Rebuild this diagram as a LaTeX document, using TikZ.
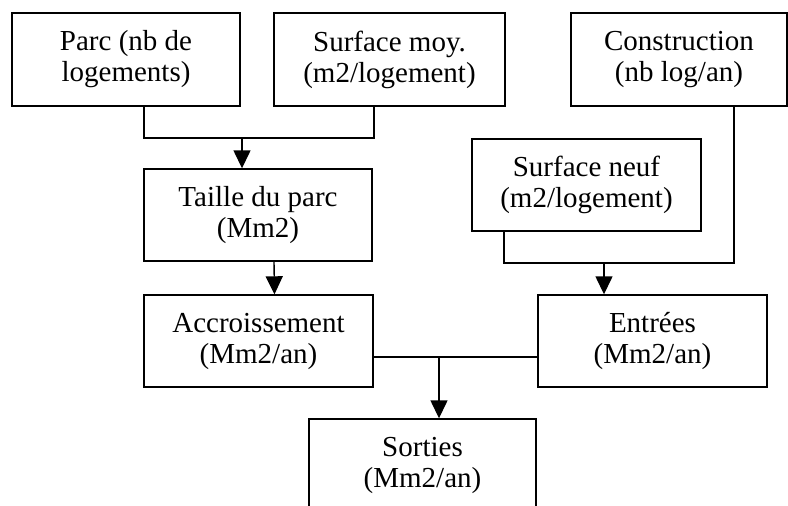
\documentclass[tikz,border=0pt]{standalone}
\usepackage{fontspec}
\setmainfont{Liberation Serif}
\usetikzlibrary{positioning, arrows.meta}
\tikzset{
	boxNode/.style={draw=black, line width=1.4pt, rectangle, align=center, inner sep=0pt, font=\fontsize{29}{31}\selectfont},
	flowLine/.style={line width=1.4pt},
	flowArrow/.style={line width=1.4pt, -{Triangle[length=18pt,width=17pt]}}
}

\begin{document}
\begin{tikzpicture}[x=1pt, y=-1pt]
\useasboundingbox (0,0) rectangle (788,506);
\clip (0,0) rectangle (788,506);
\fill[white] (0,0) rectangle (788,506);
% top row
\node[boxNode, minimum width=228pt, minimum height=93pt] (parc) at (126,59.5) {Parc (nb de\\logements)};
\node[boxNode, minimum width=231pt, minimum height=93pt] (surfMoy) at (389.5,59.5) {Surface moy.\\(m2/logement)};
\node[boxNode, minimum width=216pt, minimum height=93pt] (constr) at (679,59.5) {Construction\\(nb log/an)};
% middle
\node[boxNode, minimum width=228pt, minimum height=92pt] (taille) at (258,215) {Taille du parc\\(Mm2)};
\node[boxNode, minimum width=229pt, minimum height=92pt] (surfNeuf) at (586.5,185) {Surface neuf\\(m2/logement)};
\node[boxNode, minimum width=229pt, minimum height=92pt] (accr) at (258.5,341) {Accroissement\\(Mm2/an)};
\node[boxNode, minimum width=229pt, minimum height=92pt] (entrees) at (652.5,341) {Entr\'ees\\(Mm2/an)};
\node[boxNode, minimum width=227pt, minimum height=92pt] (sorties) at (422.5,465) {Sorties\\(Mm2/an)};
% junctions
\coordinate (jTop) at (242,138);
\coordinate (jRight) at (604,263);
\coordinate (jBottom) at (439,357);
\draw[flowLine] ([xshift=18pt]parc.south) |- (jTop) -| ([xshift=-15.5pt]surfMoy.south);
\draw[flowArrow] (jTop) -- (jTop |- taille.north);
\draw[flowArrow] ([xshift=16pt]taille.south) -- ([xshift=16pt]accr.north);
\draw[flowLine] ([xshift=-82.5pt]surfNeuf.south) |- (jRight) -| ([xshift=55pt]constr.south);
\draw[flowArrow] (jRight) -- (jRight |- entrees.north);
\draw[flowLine] (accr.east |- jBottom) -- (entrees.west |- jBottom);
\draw[flowArrow] (jBottom) -- (jBottom |- sorties.north);
\end{tikzpicture}
\end{document}
